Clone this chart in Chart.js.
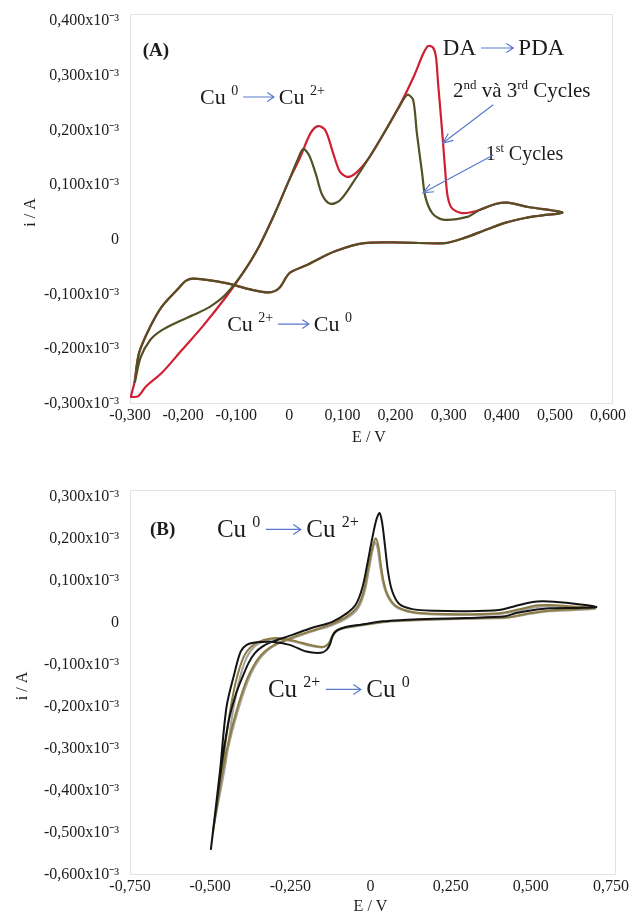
<!DOCTYPE html>
<html lang="vi">
<head>
  <meta charset="UTF-8" />
  <title>CV Cu / DA</title>
  <script src="https://cdn.jsdelivr.net/npm/chart.js"></script>
  <style>
    * { margin: 0; padding: 0; box-sizing: border-box; }
    body { width: 633px; height: 916px; background: #fff; position: relative; overflow: hidden; }
    .panel { position: absolute; left: 0; width: 633px; }
    #panelA { top: 0; height: 455px; }
    #panelB { top: 455px; height: 461px; }
  </style>
</head>
<body>
  <div class="panel" id="panelA"><canvas id="chartA" width="633" height="455"></canvas></div>
  <div class="panel" id="panelB"><canvas id="chartB" width="633" height="461"></canvas></div>

  <script>
    // ---- panel (A): E in V, i in units of 10^-3 A ----
    // 1st cycle (olive): forward scan then reverse scan
    const aOliveE = [-0.291, -0.280, -0.262, -0.240, -0.210, -0.180, -0.149, -0.120, -0.087, -0.057, -0.027, 0.000, 0.015, 0.026, 0.037, 0.050, 0.062, 0.077, 0.095, 0.120, 0.150, 0.180, 0.205, 0.222, 0.233, 0.240, 0.250, 0.256, 0.269, 0.289, 0.335, 0.359, 0.390, 0.410, 0.450, 0.514,
      0.470, 0.444, 0.406, 0.369, 0.331, 0.293, 0.216, 0.141, 0.086, 0.033, 0.000, -0.019, -0.038, -0.072, -0.119, -0.180, -0.195, -0.210, -0.240, -0.262, -0.283, -0.291];
    const aOliveI = [-0.261, -0.215, -0.183, -0.165, -0.150, -0.137, -0.122, -0.100, -0.060, -0.012, 0.049, 0.110, 0.145, 0.166, 0.155, 0.120, 0.082, 0.066, 0.072, 0.105, 0.150, 0.198, 0.240, 0.265, 0.256, 0.196, 0.122, 0.079, 0.049, 0.037, 0.042, 0.055, 0.066, 0.068, 0.060, 0.050,
      0.044, 0.040, 0.031, 0.018, 0.004, -0.006, -0.005, -0.006, -0.021, -0.046, -0.061, -0.088, -0.096, -0.091, -0.079, -0.071, -0.075, -0.090, -0.122, -0.159, -0.207, -0.261];
    // 2nd and 3rd cycles (red)
    const aRedE = [-0.300, -0.285, -0.270, -0.240, -0.202, -0.164, -0.119, -0.087, -0.057, -0.027, 0.000, 0.020, 0.040, 0.054, 0.068, 0.082, 0.095, 0.109, 0.125, 0.150, 0.180, 0.210, 0.235, 0.252, 0.261, 0.270, 0.276, 0.280, 0.285, 0.289, 0.294, 0.298, 0.306, 0.325, 0.345, 0.359, 0.390, 0.410, 0.450, 0.514,
      0.470, 0.444, 0.406, 0.369, 0.331, 0.293, 0.216, 0.141, 0.086, 0.033, 0.000, -0.019, -0.038, -0.072, -0.119, -0.180, -0.195, -0.210, -0.240, -0.262, -0.283, -0.292, -0.299];
    const aRedI = [-0.287, -0.286, -0.268, -0.243, -0.201, -0.159, -0.104, -0.060, -0.012, 0.049, 0.110, 0.150, 0.195, 0.208, 0.200, 0.160, 0.125, 0.115, 0.122, 0.150, 0.198, 0.250, 0.300, 0.340, 0.354, 0.352, 0.335, 0.287, 0.230, 0.183, 0.120, 0.080, 0.058, 0.049, 0.051, 0.055, 0.066, 0.068, 0.060, 0.050,
      0.044, 0.040, 0.031, 0.018, 0.004, -0.006, -0.005, -0.006, -0.021, -0.046, -0.061, -0.088, -0.096, -0.091, -0.079, -0.071, -0.075, -0.090, -0.122, -0.159, -0.207, -0.262, -0.288];

    // ---- panel (B) ----
    const bBlackE = [-0.498, -0.485, -0.470, -0.455, -0.440, -0.420, -0.400, -0.380, -0.360, -0.335, -0.308, -0.246, -0.184, -0.121, -0.072, -0.045, -0.025, -0.010, 0.005, 0.018, 0.028, 0.036, 0.045, 0.055, 0.068, 0.090, 0.130, 0.200, 0.300, 0.400, 0.450, 0.505, 0.540, 0.610, 0.704,
      0.650, 0.560, 0.500, 0.455, 0.420, 0.300, 0.200, 0.100, 0.040, -0.030, -0.080, -0.105, -0.118, -0.126, -0.137, -0.155, -0.200, -0.252, -0.305, -0.355, -0.386, -0.405, -0.424, -0.449, -0.470, -0.498];
    const bBlackI = [-0.540, -0.460, -0.370, -0.290, -0.225, -0.170, -0.130, -0.095, -0.071, -0.055, -0.045, -0.029, -0.012, 0.002, 0.024, 0.045, 0.085, 0.140, 0.200, 0.245, 0.262, 0.240, 0.185, 0.120, 0.075, 0.045, 0.033, 0.029, 0.028, 0.031, 0.040, 0.050, 0.052, 0.048, 0.038,
      0.036, 0.035, 0.030, 0.024, 0.016, 0.012, 0.010, 0.007, 0.004, -0.004, -0.010, -0.018, -0.030, -0.050, -0.064, -0.071, -0.068, -0.052, -0.045, -0.046, -0.052, -0.068, -0.119, -0.200, -0.357, -0.540];
    const bOliveE = [-0.492, -0.475, -0.458, -0.440, -0.420, -0.400, -0.380, -0.355, -0.330, -0.300, -0.250, -0.190, -0.125, -0.075, -0.040, -0.020, -0.005, 0.008, 0.016, 0.024, 0.032, 0.042, 0.055, 0.080, 0.130, 0.200, 0.300, 0.400, 0.460, 0.520, 0.560, 0.620, 0.700,
      0.640, 0.560, 0.500, 0.455, 0.420, 0.300, 0.200, 0.100, 0.040, -0.030, -0.085, -0.110, -0.122, -0.132, -0.150, -0.190, -0.240, -0.290, -0.330, -0.365, -0.395, -0.420, -0.440, -0.460, -0.492];
    const bOliveI = [-0.500, -0.420, -0.340, -0.275, -0.215, -0.165, -0.125, -0.090, -0.068, -0.052, -0.036, -0.020, -0.004, 0.015, 0.040, 0.080, 0.140, 0.185, 0.202, 0.185, 0.140, 0.095, 0.065, 0.040, 0.026, 0.022, 0.021, 0.023, 0.032, 0.042, 0.043, 0.040, 0.036,
      0.033, 0.030, 0.024, 0.017, 0.013, 0.011, 0.009, 0.006, 0.003, -0.005, -0.012, -0.020, -0.035, -0.050, -0.057, -0.052, -0.042, -0.036, -0.040, -0.052, -0.080, -0.140, -0.220, -0.330, -0.500];
    const bGrayE = [-0.488, -0.470, -0.452, -0.432, -0.412, -0.392, -0.372, -0.348, -0.322, -0.292, -0.245, -0.185, -0.122, -0.072, -0.038, -0.018, -0.004, 0.007, 0.014, 0.022, 0.030, 0.040, 0.054, 0.080, 0.130, 0.200, 0.300, 0.400, 0.460, 0.520, 0.560, 0.620, 0.700,
      0.640, 0.560, 0.500, 0.455, 0.420, 0.300, 0.200, 0.100, 0.040, -0.030, -0.085, -0.108, -0.120, -0.130, -0.148, -0.190, -0.240, -0.290, -0.325, -0.360, -0.388, -0.412, -0.432, -0.452, -0.488];
    const bGrayI = [-0.480, -0.400, -0.325, -0.260, -0.205, -0.158, -0.120, -0.088, -0.066, -0.051, -0.037, -0.021, -0.006, 0.012, 0.036, 0.075, 0.130, 0.175, 0.192, 0.178, 0.135, 0.092, 0.062, 0.038, 0.025, 0.020, 0.019, 0.021, 0.029, 0.038, 0.040, 0.038, 0.034,
      0.031, 0.028, 0.022, 0.016, 0.012, 0.010, 0.008, 0.005, 0.002, -0.006, -0.013, -0.021, -0.036, -0.051, -0.058, -0.054, -0.044, -0.038, -0.042, -0.055, -0.085, -0.145, -0.225, -0.335, -0.480];

    const serif = "'Liberation Serif', 'Times New Roman', serif";
    const ink = '#1c1c1c';
    const arrowBlue = '#5a78cc';

    function pts(es, is) {
      return es.map((e, k) => ({ x: e, y: is[k] }));
    }
    function fmtE(v) {
      return Math.abs(v) < 1e-9 ? '0' : v.toFixed(3).replace('.', ',');
    }
    function fmtI(v) {
      return Math.abs(v) < 1e-9 ? '0' : v.toFixed(3).replace('.', ',') + 'x10⁻³';
    }

    // light frame round the plot area
    const framePlugin = {
      id: 'frame',
      beforeDatasetsDraw(chart) {
        const a = chart.chartArea, ctx = chart.ctx;
        ctx.save();
        ctx.strokeStyle = '#e3e3e3';
        ctx.lineWidth = 1;
        ctx.strokeRect(a.left + 0.5, a.top - 6.5, a.right - a.left + 4, a.bottom - a.top + 6);
        ctx.restore();
      }
    };

    // text notes with superscripts and blue arrows
    const notesPlugin = {
      id: 'notes',
      afterDatasetsDraw(chart, args, opts) {
        const ctx = chart.ctx, sx = chart.scales.x, sy = chart.scales.y;
        ctx.save();
        ctx.textBaseline = 'alphabetic';
        (opts.items || []).forEach(it => {
          let px = sx.getPixelForValue(it.e);
          const py = sy.getPixelForValue(it.i);
          const size = it.size, weight = it.bold ? 'bold ' : '';
          it.runs.forEach(r => {
            if (r[0] === 'a') {
              const len = size * 1.4, gap = size * 0.22, ay = py - size * 0.3;
              ctx.strokeStyle = arrowBlue;
              ctx.lineWidth = 1.2;
              ctx.beginPath();
              ctx.moveTo(px + gap, ay);
              ctx.lineTo(px + gap + len, ay);
              ctx.moveTo(px + gap + len - size * 0.3, ay - size * 0.2);
              ctx.lineTo(px + gap + len, ay);
              ctx.lineTo(px + gap + len - size * 0.3, ay + size * 0.2);
              ctx.stroke();
              px += len + gap * 2;
            } else if (r[0] === 's') {
              const fs = Math.round(size * 0.62);
              ctx.font = weight + fs + 'px ' + serif;
              ctx.fillStyle = ink;
              ctx.fillText(r[1], px, py - size * 0.38);
              px += ctx.measureText(r[1]).width;
            } else {
              ctx.font = weight + size + 'px ' + serif;
              ctx.fillStyle = ink;
              ctx.fillText(r[1], px, py);
              px += ctx.measureText(r[1]).width;
            }
          });
        });
        (opts.pointers || []).forEach(p => {
          const x0 = sx.getPixelForValue(p.from[0]), y0 = sy.getPixelForValue(p.from[1]);
          const x1 = sx.getPixelForValue(p.to[0]), y1 = sy.getPixelForValue(p.to[1]);
          const ang = Math.atan2(y1 - y0, x1 - x0);
          ctx.strokeStyle = arrowBlue;
          ctx.lineWidth = 1.2;
          ctx.beginPath();
          ctx.moveTo(x0, y0);
          ctx.lineTo(x1, y1);
          ctx.moveTo(x1 - 11 * Math.cos(ang - 0.4), y1 - 11 * Math.sin(ang - 0.4));
          ctx.lineTo(x1, y1);
          ctx.lineTo(x1 - 11 * Math.cos(ang + 0.4), y1 - 11 * Math.sin(ang + 0.4));
          ctx.stroke();
        });
        ctx.restore();
      }
    };

    function makeChart(id, c) {
      const tickFont = { family: serif, size: 16 };
      return new Chart(document.getElementById(id), {
        type: 'scatter',
        data: { datasets: c.datasets },
        options: {
          responsive: false,
          animation: false,
          layout: { padding: { top: c.top, right: c.right, left: 0, bottom: 0 } },
          elements: { point: { radius: 0 }, line: { tension: 0.3, fill: false } },
          plugins: { legend: { display: false }, tooltip: { enabled: false }, notes: c.notes },
          scales: {
            x: {
              type: 'linear', min: c.xMin, max: c.xMax,
              ticks: { stepSize: c.xStep, callback: fmtE, font: tickFont, color: ink, padding: 2, maxRotation: 0, autoSkip: false },
              grid: { display: false, drawTicks: false },
              border: { display: false },
              title: { display: true, text: 'E / V', font: { family: serif, size: 16 }, color: ink, padding: { top: 0, bottom: c.xTitlePad } },
              afterFit: s => { s.height = c.xH; }
            },
            y: {
              type: 'linear', min: c.yMin, max: c.yMax,
              ticks: { stepSize: 0.1, callback: fmtI, font: tickFont, color: ink, padding: 11, autoSkip: false },
              grid: { display: false, drawTicks: false },
              border: { display: false },
              title: { display: true, text: 'i / A', font: { family: serif, size: 16 }, color: ink, padding: { top: c.yTitlePad, bottom: 0 } },
              afterFit: s => { s.width = 130; }
            }
          }
        },
        plugins: [framePlugin, notesPlugin]
      });
    }

    makeChart('chartA', {
      xMin: -0.3, xMax: 0.6, xStep: 0.1, yMin: -0.3, yMax: 0.4,
      top: 21, right: 25, xH: 51, xTitlePad: 8, yTitlePad: 21,
      datasets: [
        { data: pts(aOliveE, aOliveI), showLine: true, borderColor: '#545026', borderWidth: 2.2 },
        { data: pts(aRedE, aRedI), showLine: true, borderColor: '#cf1f33', borderWidth: 2.2 }
      ],
      notes: {
        items: [
          { e: -0.276, i: 0.336, size: 19, bold: true, runs: [['t', '(A)']] },
          { e: -0.168, i: 0.249, size: 22, runs: [['t', 'Cu '], ['s', '0'], ['a'], ['t', 'Cu '], ['s', '2+']] },
          { e: 0.289, i: 0.338, size: 23, runs: [['t', 'DA'], ['a'], ['t', 'PDA']] },
          { e: 0.308, i: 0.261, size: 21, runs: [['t', '2'], ['s', 'nd'], ['t', ' và 3'], ['s', 'rd'], ['t', ' Cycles']] },
          { e: 0.370, i: 0.146, size: 20, runs: [['t', '1'], ['s', 'st'], ['t', ' Cycles']] },
          { e: -0.117, i: -0.166, size: 22, runs: [['t', 'Cu '], ['s', '2+'], ['a'], ['t', 'Cu '], ['s', '0']] }
        ],
        pointers: [
          { from: [0.384, 0.247], to: [0.289, 0.177] },
          { from: [0.384, 0.155], to: [0.252, 0.086] }
        ]
      }
    });

    makeChart('chartB', {
      xMin: -0.75, xMax: 0.75, xStep: 0.25, yMin: -0.6, yMax: 0.3,
      top: 42, right: 22, xH: 41, xTitlePad: 0, yTitlePad: 13,
      datasets: [
        { data: pts(bBlackE, bBlackI), showLine: true, borderColor: '#141414', borderWidth: 2 },
        { data: pts(bOliveE, bOliveI), showLine: true, borderColor: '#8c7b43', borderWidth: 2 },
        { data: pts(bGrayE, bGrayI), showLine: true, borderColor: '#a4a49c', borderWidth: 2 }
      ],
      notes: {
        items: [
          { e: -0.688, i: 0.210, size: 19, bold: true, runs: [['t', '(B)']] },
          { e: -0.479, i: 0.205, size: 25, runs: [['t', 'Cu '], ['s', '0'], ['a'], ['t', 'Cu '], ['s', '2+']] },
          { e: -0.320, i: -0.176, size: 25, runs: [['t', 'Cu '], ['s', '2+'], ['a'], ['t', 'Cu '], ['s', '0']] }
        ]
      }
    });
  </script>
</body>
</html>
